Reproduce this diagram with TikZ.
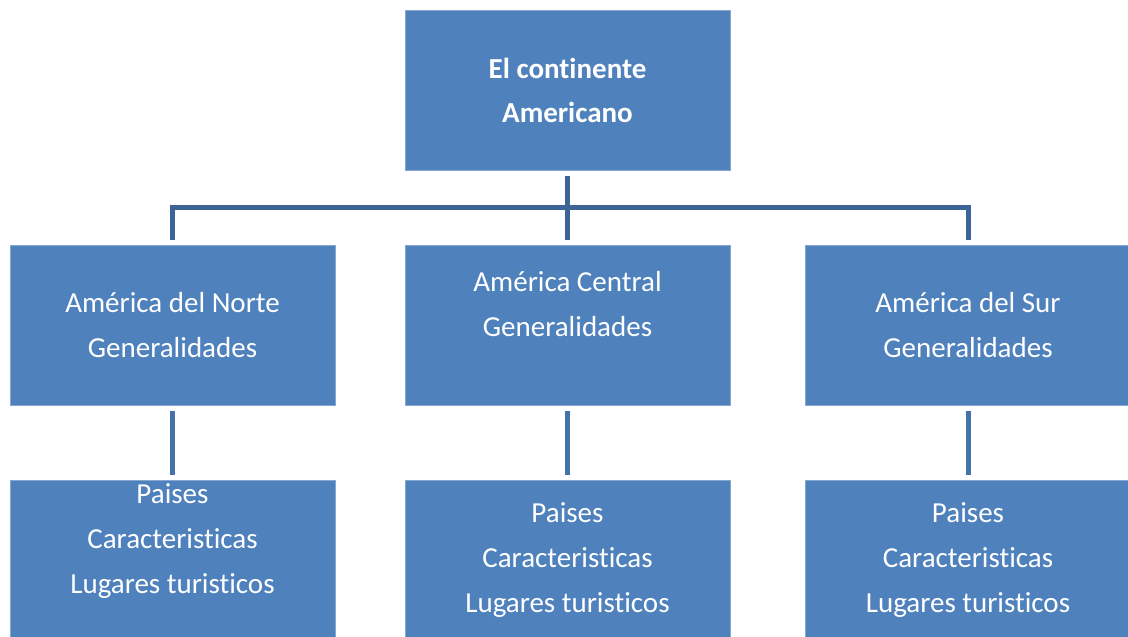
\documentclass[tikz,border=0pt]{standalone}
\usepackage{fontspec}
\setmainfont{Carlito}[Ligatures=NoCommon]
\definecolor{boxblue}{HTML}{4F81BD}
\definecolor{boxedge}{HTML}{86A7D2}
\definecolor{treeline}{HTML}{3C6496}
\definecolor{stemline}{HTML}{4672AA}
\tikzset{
  box/.style={rectangle, fill=boxblue, draw=boxedge, line width=0.6pt,
    minimum width=325pt, minimum height=160pt, inner sep=0pt,
    text=white, align=center, font=\fontsize{29}{45}\selectfont},
  txt/.style={text=white, align=center, inner sep=0pt,
    font=\fontsize{29}{45}\selectfont},
  tree/.style={draw=treeline, line width=5pt, line join=miter},
  stem/.style={draw=stemline, line width=5pt}
}
\begin{document}
\begin{tikzpicture}[x=1pt,y=-1pt]
  \useasboundingbox (0,0) rectangle (1128,637);
  \draw
    (567.5,90) node[box, font=\bfseries\fontsize{29}{44}\selectfont] (top) {El continente\\Americano}
    (172.5,325.5) node[box] (nortegen) {Am\'erica del Norte\\Generalidades}
    (567.5,325.5) node[box] (centralgen) {}
    (968,325.5) node[box] (surgen) {Am\'erica del Sur\\Generalidades}
    (172.5,560) node[box] (nortepais) {}
    (567.5,560) node[box] (centralpais) {Paises\\Caracteristicas\\Lugares turisticos}
    (968,560) node[box] (surpais) {Paises\\Caracteristicas\\Lugares turisticos};
  \node[txt] (centraltxt) at (567.5,304.5) {Am\'erica Central\\Generalidades};
  \node[txt] (nortetxt) at (172.5,541) {Paises\\Caracteristicas\\Lugares turisticos};
  \coordinate (fork) at (567.5,207.5);
  \begin{scope}[shorten <=6pt, shorten >=5pt]
    \draw[tree] (top) -- (centralgen);
    \draw[tree, shorten <=5pt] (nortegen.north) |- (fork) -| (surgen.north);
    \draw[stem, shorten <=5pt] (nortegen) -- (nortepais);
    \draw[stem, shorten <=5pt] (centralgen) -- (centralpais);
    \draw[stem, shorten <=5pt] (surgen) -- (surpais);
  \end{scope}
\end{tikzpicture}
\end{document}
